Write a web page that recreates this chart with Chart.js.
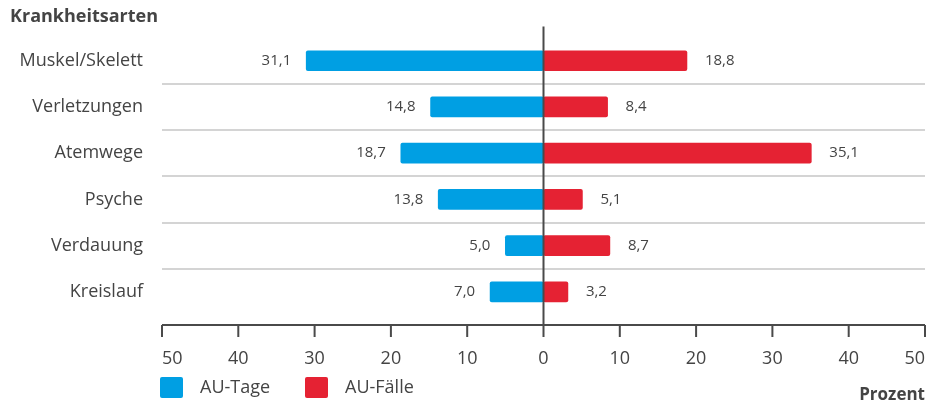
<!DOCTYPE html>
<html lang="de">
<head>
<meta charset="utf-8">
<script src="https://cdn.jsdelivr.net/npm/chart.js@4/dist/chart.umd.min.js"></script>
<style>
  html, body { margin: 0; padding: 0; background: #fff; }
  #wrap { position: relative; width: 931px; height: 403px; }
  #legend { position: absolute; left: 160px; top: 377px; font: 18px "Open Sans", sans-serif; color: #444; }
  #legend span.item { position: absolute; top: 0; white-space: nowrap; }
  #legend span.box { position: absolute; top: 0; width: 23px; height: 21px; border-radius: 2px; }
</style>
</head>
<body>
<div id="wrap">
  <canvas id="chart" width="931" height="403"></canvas>
  <div id="legend"></div>
</div>
<script>
const categories = ["Muskel/Skelett", "Verletzungen", "Atemwege", "Psyche", "Verdauung", "Kreislauf"];
const auTage = [31.1, 14.8, 18.7, 13.8, 5.0, 7.0];
const auFaelle = [18.8, 8.4, 35.1, 5.1, 8.7, 3.2];
const seriesNames = ["AU-Tage", "AU-Fälle"];
const xTicks = [-50, -40, -30, -20, -10, 0, 10, 20, 30, 40, 50];

const blue = "#009fe3";
const red = "#e52233";
const textColor = "#444";
const axisColor = "#4a4a4a";
const fontFamily = "'Open Sans', sans-serif";

const fmt = v => Math.abs(v).toFixed(1).replace(".", ",");

// value labels next to bar ends + center line + bottom axis
const decorations = {
    id: "decorations",
    afterDatasetsDraw(chart) {
        const ctx = chart.ctx;
        const x = chart.scales.x;
        const area = chart.chartArea;
        ctx.save();

        // vertical zero line
        const x0 = x.getPixelForValue(0);
        ctx.strokeStyle = axisColor;
        ctx.lineWidth = 2;
        ctx.beginPath();
        ctx.moveTo(x0, area.top - 11);
        ctx.lineTo(x0, area.bottom + 10);
        ctx.stroke();

        // axis line and tick marks
        const yAxis = area.bottom + 10;
        ctx.beginPath();
        ctx.moveTo(x.getPixelForValue(xTicks[0]), yAxis);
        ctx.lineTo(x.getPixelForValue(xTicks[xTicks.length - 1]), yAxis);
        xTicks.forEach(t => {
            const px = x.getPixelForValue(t);
            ctx.moveTo(px, yAxis);
            ctx.lineTo(px, yAxis + 12);
        });
        ctx.stroke();

        // value labels
        ctx.fillStyle = textColor;
        ctx.font = "15px " + fontFamily;
        ctx.textBaseline = "middle";
        chart.data.datasets.forEach((ds, di) => {
            const meta = chart.getDatasetMeta(di);
            meta.data.forEach((bar, i) => {
                const v = ds.data[i];
                if (v < 0) {
                    ctx.textAlign = "right";
                    ctx.fillText(fmt(v), bar.x - 15, bar.y);
                } else {
                    ctx.textAlign = "left";
                    ctx.fillText(fmt(v), bar.x + 18, bar.y);
                }
            });
        });
        ctx.restore();
    }
};

const n = categories.length;

new Chart(document.getElementById("chart"), {
    type: "bar",
    data: {
        labels: categories,
        datasets: [
            {
                label: seriesNames[0],
                data: auTage.map(v => -v),
                backgroundColor: blue,
                barThickness: 20,
                borderRadius: 2,
                borderSkipped: false
            },
            {
                label: seriesNames[1],
                data: auFaelle,
                backgroundColor: red,
                barThickness: 20,
                borderRadius: 2,
                borderSkipped: false
            }
        ]
    },
    options: {
        indexAxis: "y",
        responsive: false,
        animation: false,
        layout: { autoPadding: false, padding: { left: 10, right: 6, top: 0, bottom: 0 } },
        plugins: {
            legend: { display: false },
            tooltip: { enabled: false },
            title: {
                display: true,
                text: "Krankheitsarten",
                align: "start",
                color: textColor,
                font: { family: fontFamily, size: 18, weight: "bold" },
                padding: { top: 6, bottom: 10 }
            }
        },
        scales: {
            x: {
                stacked: true,
                min: -50,
                max: 50,
                afterBuildTicks: scale => {
                    scale.ticks = xTicks.map(v => ({ value: v }));
                },
                afterFit: scale => {
                    scale.paddingLeft = 0;
                    scale.paddingRight = 0;
                    // fit() counts tick padding twice
                    scale.height -= scale.options.ticks.padding;
                },
                ticks: {
                    callback: v => Math.abs(v),
                    align: "inner",
                    padding: 33,
                    color: textColor,
                    maxRotation: 0,
                    font: { family: fontFamily, size: 18 }
                },
                grid: { display: false, drawTicks: false },
                border: { display: false },
                title: {
                    display: true,
                    text: "Prozent",
                    align: "end",
                    color: textColor,
                    font: { family: fontFamily, size: 17, weight: "bold" },
                    padding: { top: 15, bottom: -2 }
                }
            },
            y: {
                stacked: true,
                afterFit: scale => {
                    scale.width = 152;
                    scale.paddingTop = 0;
                    scale.paddingBottom = 0;
                },
                ticks: {
                    padding: 19,
                    color: textColor,
                    font: { family: fontFamily, size: 18 }
                },
                grid: {
                    offset: true,
                    drawTicks: false,
                    lineWidth: 2,
                    color: c => (c.index > 0 && c.index < n) ? "#d4d4d4" : "transparent"
                },
                border: { display: false }
            }
        }
    },
    plugins: [decorations]
});

// legend
const legend = document.getElementById("legend");
const legendItems = [
    { name: seriesNames[0], color: blue, left: 0 },
    { name: seriesNames[1], color: red, left: 145 }
];
legendItems.forEach(it => {
    legend.innerHTML += `<span class="box" style="left:${it.left}px;background:${it.color}"></span>` +
        `<span class="item" style="left:${it.left + 40}px;top:-3px">${it.name}</span>`;
});
</script>
</body>
</html>
